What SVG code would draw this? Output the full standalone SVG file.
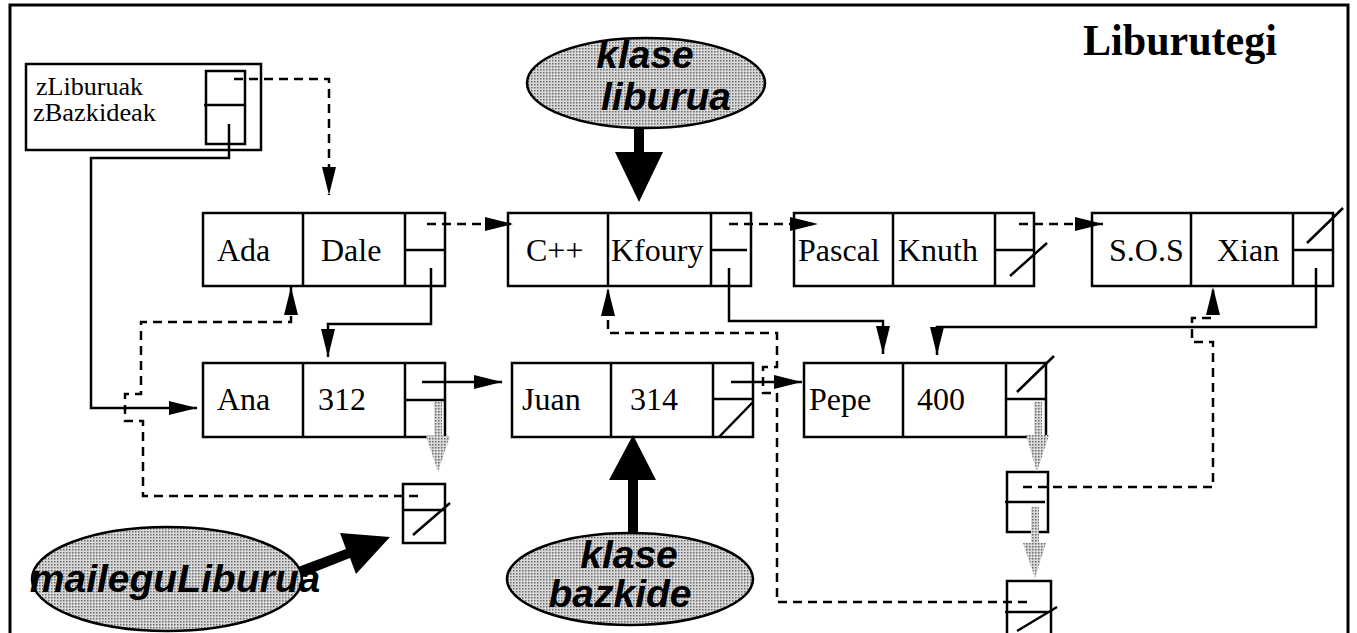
<svg xmlns="http://www.w3.org/2000/svg" width="1357" height="633" viewBox="0 0 1357 633">
<style>
.bx{fill:none;stroke:#000;stroke-width:2.5}
.ln{fill:none;stroke:#000;stroke-width:2.5}
.c{fill:none;stroke:#000;stroke-width:2.5}
.d{stroke-dasharray:9 6}
.t{font-family:"Liberation Serif",serif;font-size:32px;fill:#000}
.s{font-family:"Liberation Serif",serif;font-size:25px;fill:#000}
.e{font-family:"Liberation Sans",Arial,sans-serif;font-size:39px;font-weight:bold;font-style:italic;fill:#000;text-anchor:middle}
.el{fill:url(#dots);stroke:#000;stroke-width:2.5}
.ga{fill:url(#dots);stroke:none}
</style>
<defs>
<pattern id="dots" width="3" height="3" patternUnits="userSpaceOnUse">
<rect width="3" height="3" fill="#d8d8d8"/>
<rect width="1.5" height="1.5" fill="#6a6a6a"/>
</pattern>
<marker id="ah" markerUnits="userSpaceOnUse" markerWidth="30" markerHeight="15" refX="28" refY="7" orient="auto">
<path d="M0,0 L28,7 L0,14 z" fill="#000"/>
</marker>
</defs>
<rect width="1357" height="633" fill="#fff"/>
<rect x="10" y="5" width="1338" height="640" fill="none" stroke="#000" stroke-width="3"/>
<text x="1083" y="55" style="font-family:'Liberation Serif',serif;font-size:44px;font-weight:bold" textLength="194" lengthAdjust="spacingAndGlyphs">Liburutegi</text>

<g id="liburutegi">
<rect class="bx" x="26" y="64" width="235" height="86"/>
<rect class="bx" x="206" y="71" width="39" height="73"/>
<line class="ln" x1="204" y1="105" x2="245" y2="105"/>
<text class="s" x="36" y="95" textLength="107" lengthAdjust="spacingAndGlyphs">zLiburuak</text>
<text class="s" x="33" y="121" textLength="123" lengthAdjust="spacingAndGlyphs">zBazkideak</text>
</g>

<g id="liburua-ada">
<rect class="bx" x="203" y="213" width="242" height="73"/>
<line class="ln" x1="303" y1="213" x2="303" y2="286"/>
<line class="ln" x1="405" y1="213" x2="405" y2="286"/>
<line class="ln" x1="405" y1="250" x2="445" y2="250"/>
<text class="t" x="217" y="261">Ada</text>
<text class="t" x="321" y="261">Dale</text>
</g>
<g id="liburua-cpp">
<rect class="bx" x="508" y="213" width="243" height="73"/>
<line class="ln" x1="608" y1="213" x2="608" y2="286"/>
<line class="ln" x1="711" y1="213" x2="711" y2="286"/>
<line class="ln" x1="711" y1="250" x2="747" y2="250"/>
<text class="t" x="526" y="261">C++</text>
<text class="t" x="611" y="261">Kfoury</text>
</g>
<g id="liburua-pascal">
<rect class="bx" x="794" y="213" width="240" height="73"/>
<line class="ln" x1="893" y1="213" x2="893" y2="286"/>
<line class="ln" x1="995" y1="213" x2="995" y2="286"/>
<line class="ln" x1="995" y1="250" x2="1034" y2="250"/>
<line class="ln" x1="1010" y1="276" x2="1047" y2="243"/>
<text class="t" x="798" y="261">Pascal</text>
<text class="t" x="898" y="261">Knuth</text>
</g>
<g id="liburua-sos">
<rect class="bx" x="1092" y="213" width="241" height="73"/>
<line class="ln" x1="1191" y1="213" x2="1191" y2="286"/>
<line class="ln" x1="1293" y1="213" x2="1293" y2="286"/>
<line class="ln" x1="1293" y1="250" x2="1333" y2="250"/>
<line class="ln" x1="1307" y1="243" x2="1343" y2="208"/>
<text class="t" x="1109" y="261">S.O.S</text>
<text class="t" x="1217" y="261">Xian</text>
</g>

<g id="bazkide-ana">
<rect class="bx" x="203" y="363" width="242" height="74"/>
<line class="ln" x1="303" y1="363" x2="303" y2="437"/>
<line class="ln" x1="405" y1="363" x2="405" y2="437"/>
<line class="ln" x1="405" y1="400" x2="445" y2="400"/>
<text class="t" x="217" y="410">Ana</text>
<text class="t" x="318" y="410">312</text>
</g>
<g id="bazkide-juan">
<rect class="bx" x="512" y="363" width="241" height="74"/>
<line class="ln" x1="611" y1="363" x2="611" y2="437"/>
<line class="ln" x1="713" y1="363" x2="713" y2="437"/>
<line class="ln" x1="713" y1="399" x2="753" y2="399"/>
<line class="ln" x1="719" y1="437" x2="753" y2="402"/>
<text class="t" x="522" y="410">Juan</text>
<text class="t" x="630" y="410">314</text>
</g>
<g id="bazkide-pepe">
<rect class="bx" x="804" y="363" width="242" height="74"/>
<line class="ln" x1="903" y1="363" x2="903" y2="437"/>
<line class="ln" x1="1006" y1="363" x2="1006" y2="437"/>
<line class="ln" x1="1006" y1="399" x2="1046" y2="399"/>
<line class="ln" x1="1017" y1="392" x2="1054" y2="356"/>
<text class="t" x="809" y="410">Pepe</text>
<text class="t" x="917" y="410">400</text>
</g>

<g id="mailegu-1">
<rect class="bx" x="403" y="484" width="42" height="59"/>
<line class="ln" x1="402" y1="510" x2="445" y2="510"/>
<line class="ln" x1="413" y1="535" x2="450" y2="503"/>
</g>
<g id="mailegu-2">
<rect class="bx" x="1007" y="472" width="41" height="60"/>
<line class="ln" x1="1005" y1="502" x2="1045" y2="502"/>
</g>
<g id="mailegu-3">
<rect class="bx" x="1007" y="581" width="44" height="60"/>
<line class="ln" x1="1005" y1="612" x2="1048" y2="612"/>
<line class="ln" x1="1017" y1="631" x2="1057" y2="607"/>
</g>

<g id="klase-liburua">
<ellipse class="el" cx="646" cy="83" rx="119" ry="45"/>
<text class="e" x="645" y="68">klase</text>
<text class="e" x="666" y="110">liburua</text>
</g>
<g id="klase-bazkide">
<ellipse class="el" cx="630" cy="579" rx="123" ry="46"/>
<text class="e" x="629" y="568">klase</text>
<text class="e" x="620" y="607">bazkide</text>
</g>
<g id="maileguLiburua">
<ellipse class="el" cx="167" cy="579" rx="135" ry="52"/>
<text class="e" x="175" y="592">maileguLiburua</text>
</g>

<g id="connectors">
<path class="c d" d="M234,79 H329 V195" marker-end="url(#ah)"/>
<path class="c d" d="M427,224 H513" marker-end="url(#ah)"/>
<path class="c d" d="M729,224 H818" marker-end="url(#ah)"/>
<path class="c d" d="M1019,224 H1103" marker-end="url(#ah)"/>
<path class="c d" d="M418,496 H143 V421 H125 V394 H141 V322 H291 V287" marker-end="url(#ah)"/>
<path class="c d" d="M1027,602 H777 V393 H763 V367 H777 V333 H608 V288" marker-end="url(#ah)"/>
<path class="c d" d="M1023,487 H1213 V342 H1192 V318 H1213 V287" marker-end="url(#ah)"/>
<path class="c" d="M229,124 V158 H91 V408 H197" marker-end="url(#ah)"/>
<path class="c" d="M431,268 V324 H328 V357" marker-end="url(#ah)"/>
<path class="c" d="M729,268 V321 H883 V354" marker-end="url(#ah)"/>
<path class="c" d="M1316,268 V327 H937 V355" marker-end="url(#ah)"/>
<path class="c" d="M422,382 H502" marker-end="url(#ah)"/>
<path class="c" d="M731,382 H802" marker-end="url(#ah)"/>
<polygon class="ga" points="434,402 442,402 442,436 450,436 438,472 426,436 434,436"/>
<polygon class="ga" points="1034,402 1042,402 1042,435 1049,435 1037,472 1026,435 1034,435"/>
<polygon class="ga" points="1031,507 1039,507 1039,543 1046,543 1035,578 1023,543 1031,543"/>
<polygon fill="#000" points="634,128 644,128 644,152 663,152 639,202 615,152 634,152"/>
<polygon fill="#000" points="628,533 638,533 638,480 656,480 633,435 609,480 628,480"/>
<polygon fill="#000" points="298,567 346,549 340,533 390,537 356,574 350,558 302,577"/>
</g>
</svg>
